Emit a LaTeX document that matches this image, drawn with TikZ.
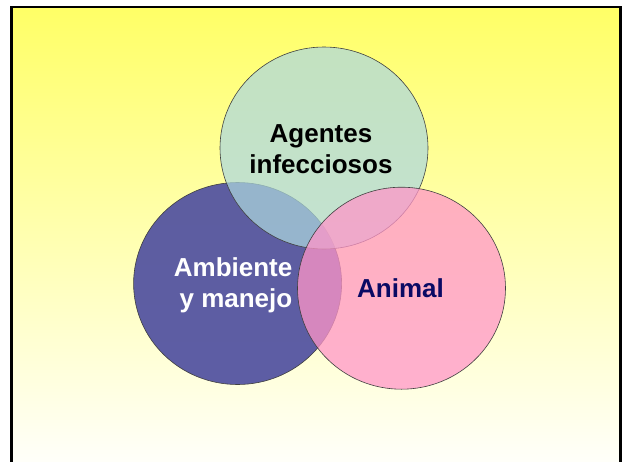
\documentclass[tikz,border=0pt]{standalone}
\usepackage{fontspec}
\setmainfont{Liberation Sans}
\usetikzlibrary{shapes.geometric}

\definecolor{bgyellow}{RGB}{255,255,102}
\definecolor{bgmid}{RGB}{255,255,212}
\definecolor{bgwhite}{RGB}{255,255,252}
\definecolor{agentescol}{RGB}{172,216,222}
\definecolor{ambientecol}{RGB}{80,80,160}
\definecolor{animalcol}{RGB}{255,150,200}
\definecolor{navy}{RGB}{10,10,100}

\begin{document}
\begin{tikzpicture}[x=1pt,y=-1pt,
    circ/.style={ellipse, draw=black!75, line width=0.6pt, inner sep=0pt,
                 minimum width=208pt, minimum height=202pt},
    lbl/.style={font=\bfseries\fontsize{26}{31}\selectfont, align=center, inner sep=0pt}]
   \useasboundingbox (0,0) rectangle (624,461);

   \begin{scope}
     \clip (0,0) rectangle (624,461);
     \shade[top color=bgyellow, middle color=bgmid, bottom color=bgwhite]
       (11.3,7.2) rectangle (620.7,470);
     \draw[line width=2.5pt] (11.3,480) -- (11.3,7.2) -- (620.7,7.2) -- (620.7,480);
   \end{scope}

   % the three circles
   \node[circ, fill=ambientecol, fill opacity=.92] (ambiente) at (237.6,283.5) {};
   \node[circ, fill=agentescol, fill opacity=.72] (agentes) at (324,148) {};
   \node[circ, fill=animalcol, fill opacity=.75] (animal) at (401.5,288.2) {};

   \node[lbl] (agentestxt) at ([xshift=-3pt, yshift=-1pt]agentes.center) {Agentes\\infecciosos};
   \node[lbl, align=right, text=white] (ambientetxt) at ([xshift=-4.5pt, yshift=-1.5pt]ambiente.center) {Ambiente\\y manejo};
   \node[lbl, text=navy] (animaltxt) at ([xshift=-1pt]animal.center) {Animal};
\end{tikzpicture}
\end{document}
